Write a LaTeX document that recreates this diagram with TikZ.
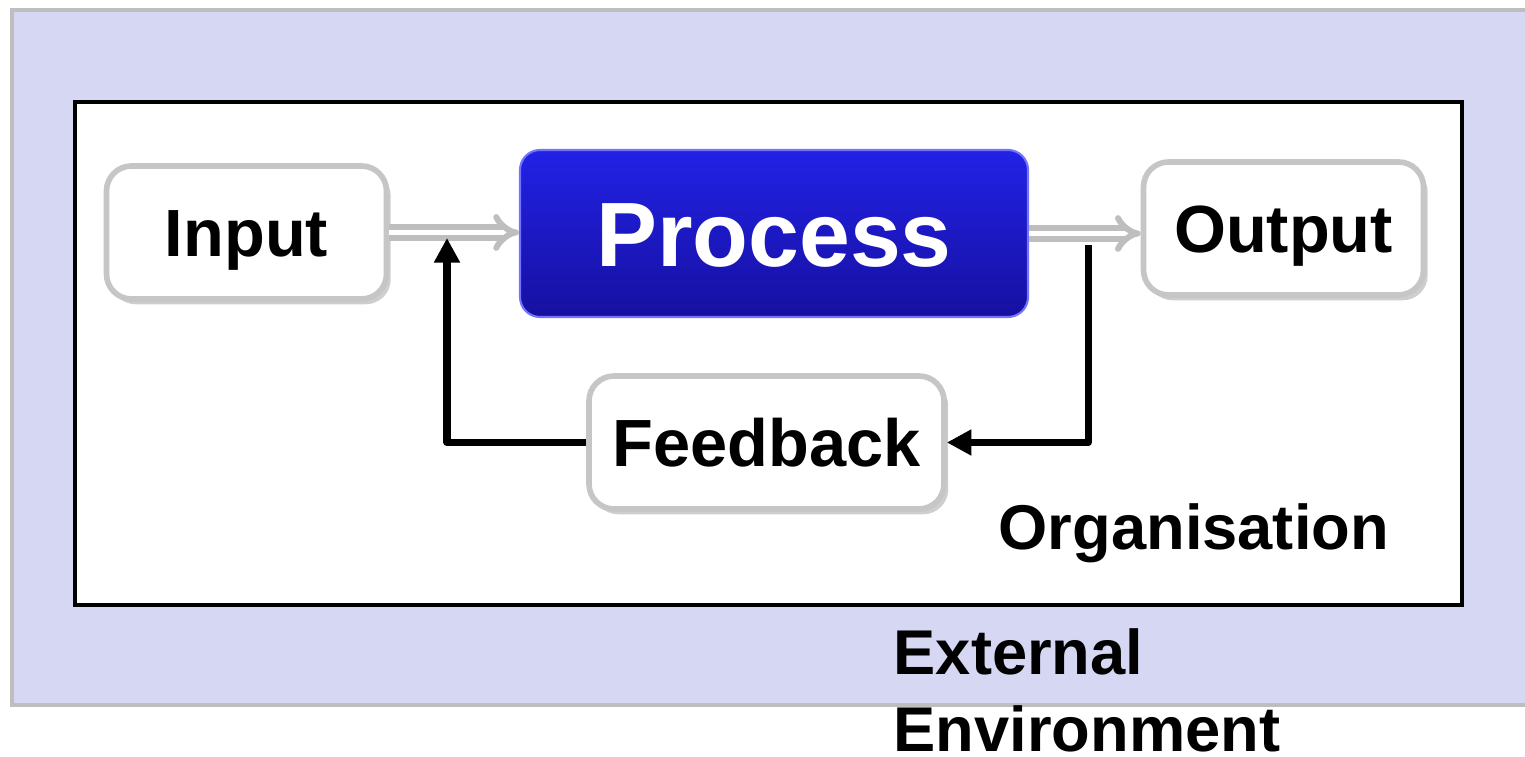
\documentclass[tikz,border=0pt]{standalone}
\usepackage{fontspec}
\setmainfont{Liberation Sans}
\usetikzlibrary{arrows.meta,positioning,shadows}
\definecolor{envfill}{RGB}{214,215,243}
\definecolor{envline}{RGB}{190,190,190}
\definecolor{proctop}{RGB}{34,34,230}
\definecolor{procbot}{RGB}{22,16,160}
\definecolor{flowgray}{RGB}{190,190,190}

\begin{document}
\begin{tikzpicture}[font=\bfseries,
  stage/.style={draw=gray!45, line width=1.6pt, fill=white, rounded corners=0.25cm,
    minimum width=2.8cm, minimum height=1.33cm, font=\fontsize{19}{22}\selectfont\bfseries,
    text height=13.6pt, text depth=0pt,
    drop shadow={shadow xshift=1.2pt, shadow yshift=-1.5pt, fill=gray!75}},
  process/.style={draw=blue!55!white, line width=0.6pt, rounded corners=0.2cm,
    top color=proctop, bottom color=procbot, text=white,
    text height=18.6pt, text depth=0pt,
    minimum width=5.08cm, minimum height=1.67cm, font=\fontsize{26}{30}\selectfont\bfseries},
  flow/.style={draw=flowgray, line width=1.7pt, double=white, double distance=1.6pt, -{Implies}},
  loop/.style={line width=2pt, line join=round, -{Triangle[width=7pt,length=7pt]}},
  label/.style={inner sep=0, font=\fontsize{18}{22}\selectfont\bfseries}]

  \useasboundingbox (0,0) rectangle (15.25,7.57);

  % environment and organisation
  \draw[envline, fill=envfill, line width=1.2pt] (0.12,0.52) rectangle (15.6,7.47);
  \draw[line width=1.4pt, fill=white] (0.75,1.52) rectangle (14.62,6.55);

  \node[stage] (input) at (2.465,5.245) {Input};
  \node[process] (process) at (7.74,5.235) {Process};
  \node[stage] (output) at (12.835,5.285) {Output};
  \node[stage, minimum width=3.55cm] (feedback) at (7.665,3.145) {Feedback};

  \draw[flow] (input.east) -- (input.east -| process.west);
  \draw[flow] (process.east) -- (process.east -| output.west);

  % feedback loop
  \coordinate (tap) at (10.88,5.12);
  \coordinate (join) at (4.47,5.19);
  \draw[loop] (tap) |- (feedback.east);
  \draw[loop] (feedback.west) -| (join);

  \node[label, anchor=base west] (orglabel) at (9.98,2.07) {Organisation};
  \node[label, anchor=base west, align=left, text depth=0pt] (envlabel) at (8.93,0.05) {External\\Environment};
\end{tikzpicture}
\end{document}
